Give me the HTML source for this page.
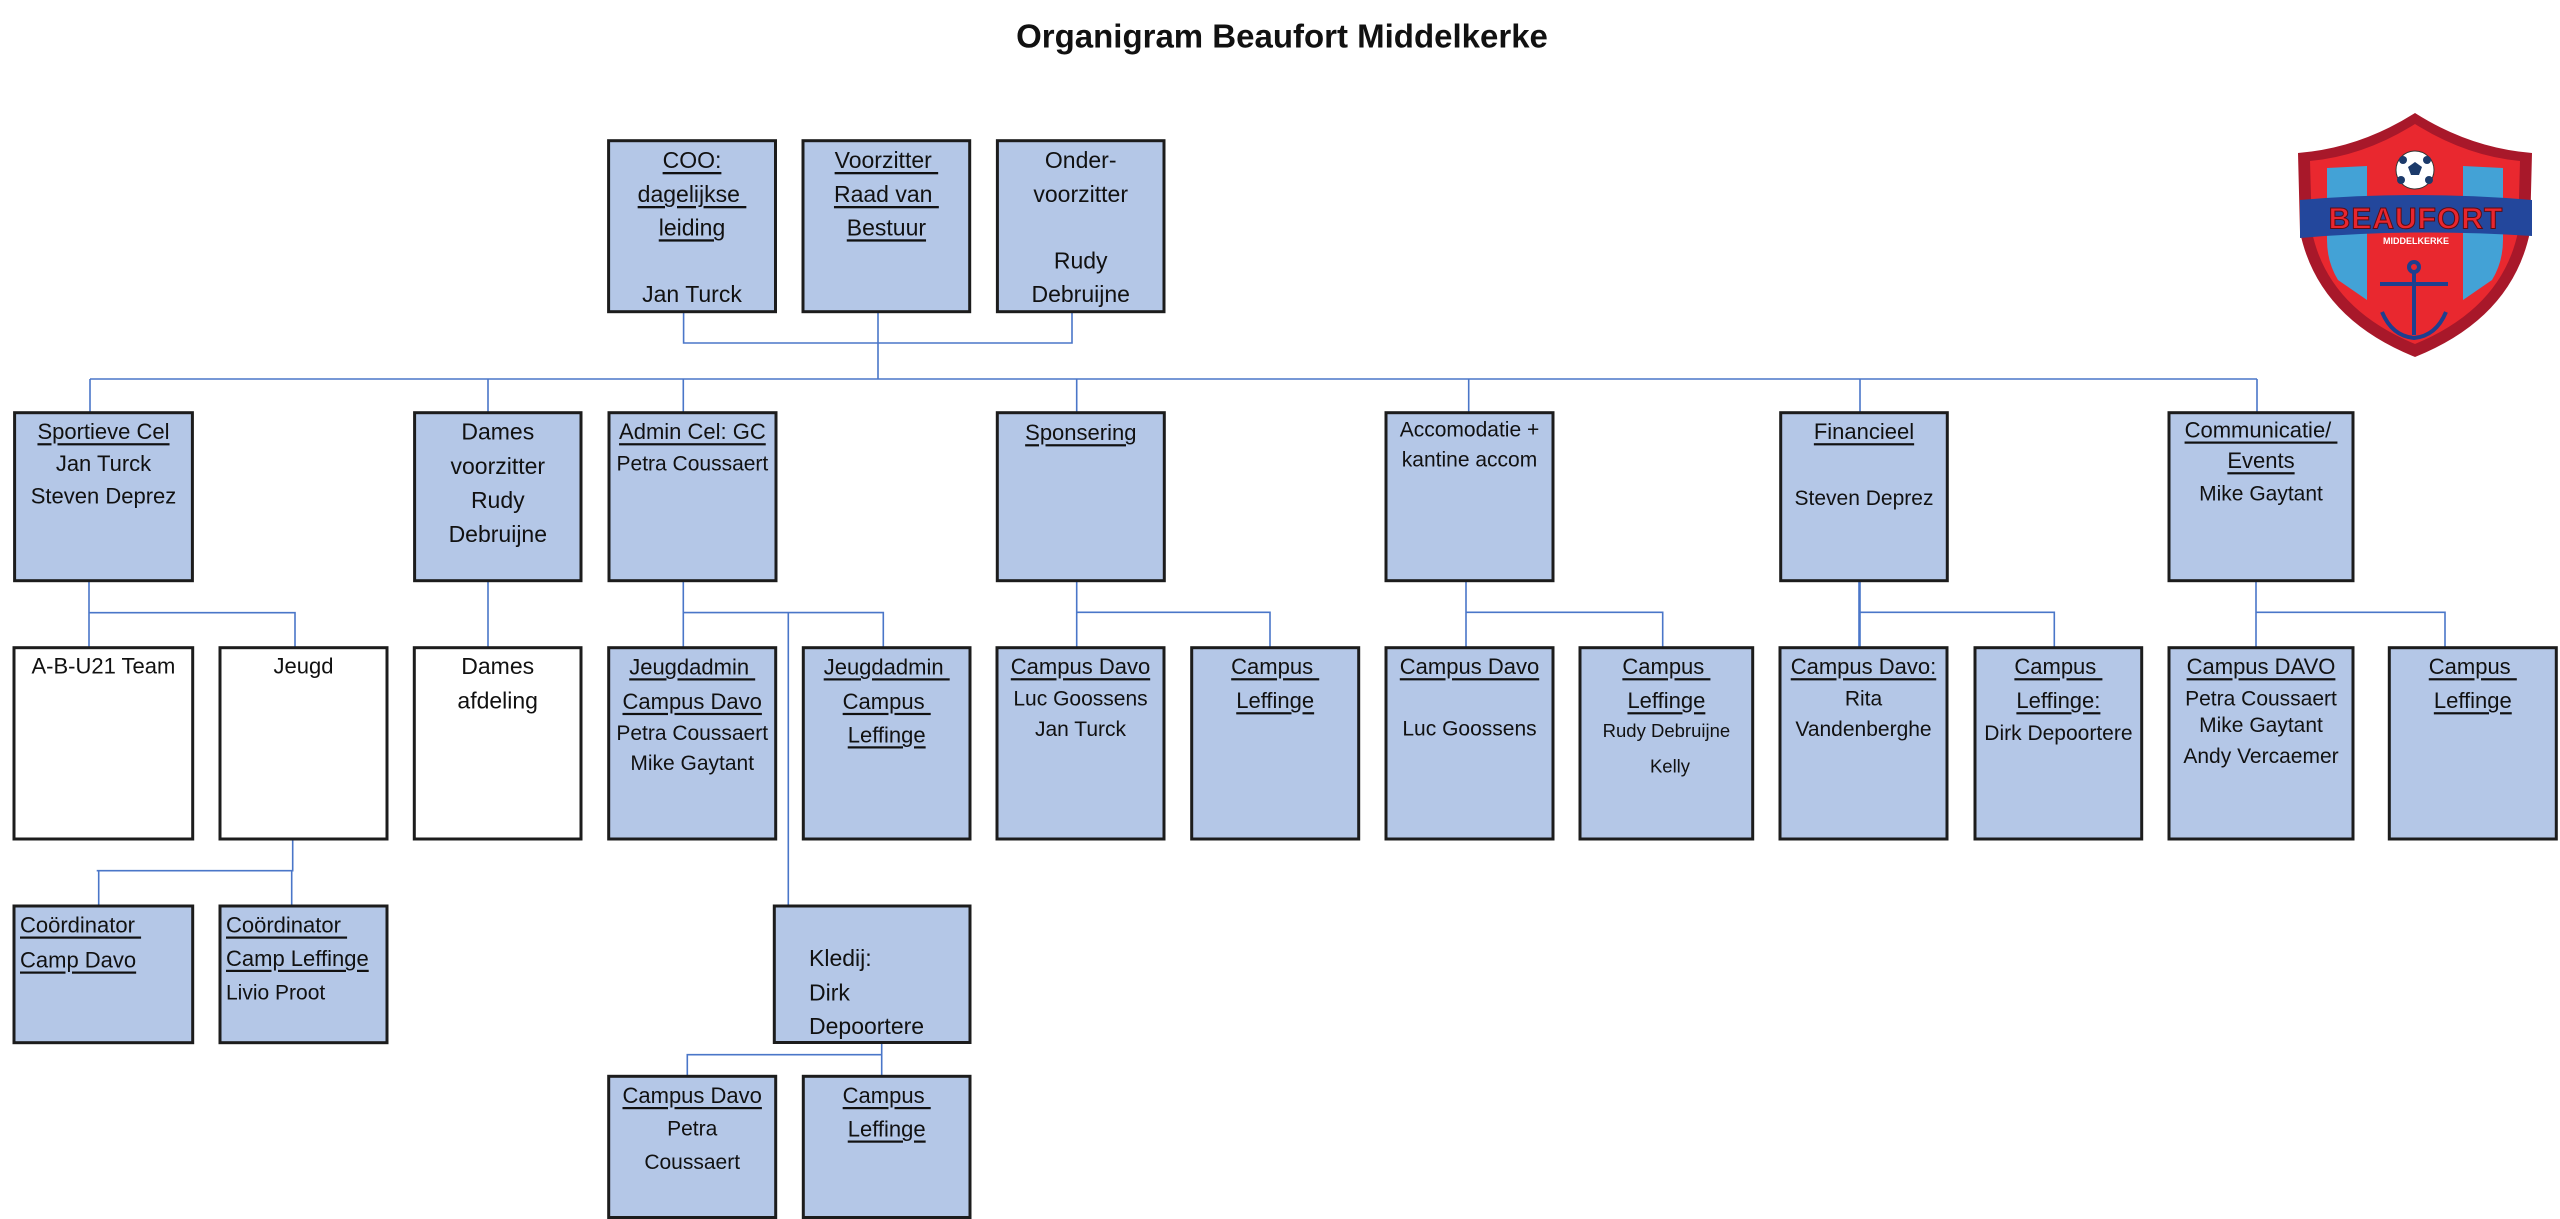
<!DOCTYPE html>
<html><head><meta charset="utf-8"><style>
html,body{margin:0;padding:0;background:#fff;}
svg{display:block;}
text{font-family:"Liberation Sans",Arial,sans-serif;fill:#111;white-space:pre;dominant-baseline:central;}
.u{text-decoration:underline;}
.c{text-anchor:middle;}
.b{fill:#b4c7e7;stroke:#1c1c1c;stroke-width:3;}
.w{fill:#fff;stroke:#1c1c1c;stroke-width:3;}
.ln{stroke:#4a76c8;stroke-width:1.6;fill:none;}
</style></head><body>
<svg width="2560" height="1219" viewBox="0 0 2560 1219" xmlns="http://www.w3.org/2000/svg">
<!-- Title -->
<text x="1282" y="36" text-anchor="middle" style="font-size:33px;font-weight:bold;">Organigram Beaufort Middelkerke</text>

<!-- Connectors -->
<g class="ln">
<path d="M683.6,311.7 V343 H1072 V311.7"/>
<path d="M878,311.7 V379"/>
<path d="M90,379 H2257"/>
<path d="M90,379 V413 M488,379 V413 M683.3,379 V413 M1076.7,379 V413 M1468.7,379 V413 M1860,379 V413 M2257,379 V413"/>
<path d="M89,581 V648 M89,612.7 H295 V648"/>
<path d="M488,581 V648"/>
<path d="M683.3,581 V648 M683.3,612.6 H883.3 V648 M788.3,612.6 V906"/>
<path d="M1076.7,581 V647.5 M1076.7,612.3 H1270 V647.5"/>
<path d="M1466,581 V647.5 M1466,612.3 H1662.7 V647.5"/>
<path d="M1859.5,581 V647.5" style="stroke-width:2.6"/>
<path d="M1859.5,612.3 H2054.3 V647.5"/>
<path d="M2256,581 V647.5 M2256,612.3 H2445 V647.5"/>
<path d="M292.7,839 V870.7 H96.7 M98.7,870.7 V906 M291.7,870.7 V906"/>
<path d="M881.7,1042.5 V1076.3 M881.7,1054.7 H687.3 V1076.3"/>
</g>

<!-- Row 1 -->
<rect class="b" x="608.6" y="140.7" width="166.9" height="171"/>
<rect class="b" x="803" y="140.7" width="166.7" height="171"/>
<rect class="b" x="997.4" y="140.7" width="166.6" height="171"/>
<g style="font-size:23px">
<text class="c u" x="692" y="160">COO:</text>
<text class="c u" x="692" y="194">dagelijkse </text>
<text class="c u" x="692" y="227.3">leiding</text>
<text class="c" x="692" y="294">Jan Turck</text>
<text class="c u" x="886.4" y="160">Voorzitter </text>
<text class="c u" x="886.4" y="194">Raad van </text>
<text class="c u" x="886.4" y="227.3">Bestuur</text>
<text class="c" x="1080.7" y="160">Onder-</text>
<text class="c" x="1080.7" y="194">voorzitter</text>
<text class="c" x="1080.7" y="260.7">Rudy</text>
<text class="c" x="1080.7" y="294">Debruijne</text>
</g>

<!-- Row 2 -->
<rect class="b" x="14.6" y="412.7" width="177.8" height="168"/>
<rect class="b" x="414.6" y="412.7" width="166.4" height="168"/>
<rect class="b" x="609" y="412.7" width="167" height="168"/>
<rect class="b" x="997.3" y="412.7" width="167" height="168"/>
<rect class="b" x="1386" y="412.7" width="167" height="168"/>
<rect class="b" x="1780.7" y="412.7" width="166.6" height="168"/>
<rect class="b" x="2169" y="412.7" width="184" height="168"/>
<g style="font-size:22px">
<text class="c u" x="103.5" y="431.7">Sportieve Cel</text>
<text class="c" x="103.5" y="463.3">Jan Turck</text>
<text class="c" x="103.5" y="496">Steven Deprez</text>
<text class="c" x="497.8" y="431.7" style="font-size:23px">Dames</text>
<text class="c" x="497.8" y="466" style="font-size:23px">voorzitter</text>
<text class="c" x="497.8" y="500" style="font-size:23px">Rudy</text>
<text class="c" x="497.8" y="534" style="font-size:23px">Debruijne</text>
<text class="c u" x="692.4" y="431.7">Admin Cel: GC</text>
<text class="c" x="692.4" y="464" style="font-size:21px">Petra Coussaert</text>
<text class="c u" x="1080.8" y="432.7">Sponsering</text>
<text class="c" x="1469.5" y="430" style="font-size:21px">Accomodatie +</text>
<text class="c" x="1469.5" y="460" style="font-size:21px">kantine accom</text>
<text class="c u" x="1864" y="431.7">Financieel</text>
<text class="c" x="1864" y="498.3" style="font-size:21px">Steven Deprez</text>
<text class="c u" x="2261" y="430">Communicatie/ </text>
<text class="c u" x="2261" y="460.7">Events</text>
<text class="c" x="2261" y="494" style="font-size:21px">Mike Gaytant</text>
</g>

<!-- Row 3 -->
<rect class="w" x="14" y="647.7" width="178.7" height="191.3"/>
<rect class="w" x="220" y="647.7" width="167" height="191.3"/>
<rect class="w" x="414.3" y="647.7" width="166.7" height="191.3"/>
<rect class="b" x="608.7" y="647.7" width="167" height="191.3"/>
<rect class="b" x="803.3" y="647.7" width="166.7" height="191.3"/>
<rect class="b" x="997" y="647.7" width="167" height="191.3"/>
<rect class="b" x="1191.7" y="647.7" width="167" height="191.3"/>
<rect class="b" x="1386" y="647.7" width="167" height="191.3"/>
<rect class="b" x="1580" y="647.7" width="172.7" height="191.3"/>
<rect class="b" x="1780" y="647.7" width="167" height="191.3"/>
<rect class="b" x="1975" y="647.7" width="166.7" height="191.3"/>
<rect class="b" x="2169" y="647.7" width="184" height="191.3"/>
<rect class="b" x="2389.3" y="647.7" width="167" height="191.3"/>
<g style="font-size:22px">
<text class="c" x="103.4" y="666">A-B-U21 Team</text>
<text class="c" x="303.5" y="666">Jeugd</text>
<text class="c" x="497.7" y="666" style="font-size:23px">Dames</text>
<text class="c" x="497.7" y="700.7" style="font-size:23px">afdeling</text>
<text class="c u" x="692.2" y="666.8">Jeugdadmin </text>
<text class="c u" x="692.2" y="701.4">Campus Davo</text>
<text class="c" x="692.2" y="733.3" style="font-size:21px">Petra Coussaert</text>
<text class="c" x="692.2" y="763.3" style="font-size:21px">Mike Gaytant</text>
<text class="c u" x="886.7" y="666.8">Jeugdadmin </text>
<text class="c u" x="886.7" y="701.4">Campus </text>
<text class="c u" x="886.7" y="734.8">Leffinge</text>
<text class="c u" x="1080.5" y="666.7">Campus Davo</text>
<text class="c" x="1080.5" y="699" style="font-size:21px">Luc Goossens</text>
<text class="c" x="1080.5" y="729.3" style="font-size:21px">Jan Turck</text>
<text class="c u" x="1275.2" y="666.7">Campus </text>
<text class="c u" x="1275.2" y="700.7">Leffinge</text>
<text class="c u" x="1469.5" y="666.7">Campus Davo</text>
<text class="c" x="1469.5" y="729" style="font-size:21px">Luc Goossens</text>
<text class="c u" x="1666.4" y="666.7">Campus </text>
<text class="c u" x="1666.4" y="700.7">Leffinge</text>
<text class="c" x="1666.4" y="730.7" style="font-size:18.5px">Rudy Debruijne</text>
<text class="c" x="1670" y="766" style="font-size:18.5px">Kelly</text>
<text class="c u" x="1863.5" y="666.7">Campus Davo:</text>
<text class="c" x="1863.5" y="699" style="font-size:21px">Rita</text>
<text class="c" x="1863.5" y="729.3" style="font-size:21px">Vandenberghe</text>
<text class="c u" x="2058.4" y="666.7">Campus </text>
<text class="c u" x="2058.4" y="700.7">Leffinge:</text>
<text class="c" x="2058.4" y="733.3" style="font-size:21px">Dirk Depoortere</text>
<text class="c u" x="2261" y="666.7">Campus DAVO</text>
<text class="c" x="2261" y="699" style="font-size:21px">Petra Coussaert</text>
<text class="c" x="2261" y="725.7" style="font-size:21px">Mike Gaytant</text>
<text class="c" x="2261" y="756.7" style="font-size:21px">Andy Vercaemer</text>
<text class="c u" x="2472.8" y="666.7">Campus </text>
<text class="c u" x="2472.8" y="700.7">Leffinge</text>
</g>

<!-- Row 4 -->
<rect class="b" x="14" y="906" width="178.7" height="136.7"/>
<rect class="b" x="220" y="906" width="167" height="136.7"/>
<rect class="b" x="774.3" y="906" width="195.7" height="136.5"/>
<g style="font-size:22px">
<text class="u" x="20" y="925">Coördinator </text>
<text class="u" x="20" y="960">Camp Davo</text>
<text class="u" x="226" y="925">Coördinator </text>
<text class="u" x="226" y="958.3">Camp Leffinge</text>
<text x="226" y="993" style="font-size:21px">Livio Proot</text>
<text x="809" y="958" style="font-size:23px">Kledij:</text>
<text x="809" y="992.4" style="font-size:23px">Dirk</text>
<text x="809" y="1026" style="font-size:23px">Depoortere</text>
</g>

<!-- Row 5 -->
<rect class="b" x="608.7" y="1076.3" width="167" height="141.2"/>
<rect class="b" x="803.3" y="1076.3" width="166.7" height="141.2"/>
<g style="font-size:22px">
<text class="c u" x="692.2" y="1095.5">Campus Davo</text>
<text class="c" x="692.2" y="1129" style="font-size:21px">Petra</text>
<text class="c" x="692.2" y="1162.7" style="font-size:21px">Coussaert</text>
<text class="c u" x="886.7" y="1095.5">Campus </text>
<text class="c u" x="886.7" y="1129">Leffinge</text>
</g>

<!-- Logo -->
<g>
<path d="M2415,113 Q2470,148 2532,153 L2530,232 Q2512,318 2415,357 Q2318,318 2300,232 L2298,153 Q2360,148 2415,113 Z" fill="#a8182a"/>
<path d="M2415,124 Q2466,156 2520,161 L2518,232 Q2502,308 2415,344 Q2328,308 2312,232 L2310,161 Q2364,156 2415,124 Z" fill="#e9282f"/>
<path d="M2327,168 L2367,166 L2367,300 L2338,280 Q2327,262 2327,240 Z" fill="#43a2d6"/>
<path d="M2463,166 L2503,168 L2503,240 Q2503,262 2492,280 L2463,300 Z" fill="#43a2d6"/>
<path d="M2300,200 Q2415,190 2532,200 L2532,236 Q2415,228 2300,238 Z" fill="#23479c"/>
<text x="2416" y="219" text-anchor="middle" style="font-size:30px;font-weight:bold;fill:#e8262e;stroke:#5a0c14;stroke-width:1;letter-spacing:1px;">BEAUFORT</text>
<text x="2416" y="241" text-anchor="middle" style="font-size:9px;font-weight:bold;fill:#fff;">MIDDELKERKE</text>
<circle cx="2415" cy="170" r="19" fill="#fff" stroke="#333" stroke-width="1"/>
<polygon points="2415,162 2422,167 2419,175 2411,175 2408,167" fill="#1c3a6a"/>
<circle cx="2403" cy="160" r="4" fill="#1c3a6a"/><circle cx="2427" cy="160" r="4" fill="#1c3a6a"/>
<circle cx="2401" cy="180" r="4" fill="#1c3a6a"/><circle cx="2429" cy="180" r="4" fill="#1c3a6a"/>
<g stroke="#1d3f8f" stroke-width="4" fill="none">
<circle cx="2414" cy="267" r="5"/>
<path d="M2414,272 V335"/>
<path d="M2380,284 H2448"/>
<path d="M2382,312 Q2392,336 2414,338 Q2436,336 2446,312"/>
</g>
</g>
</svg>
</body></html>
